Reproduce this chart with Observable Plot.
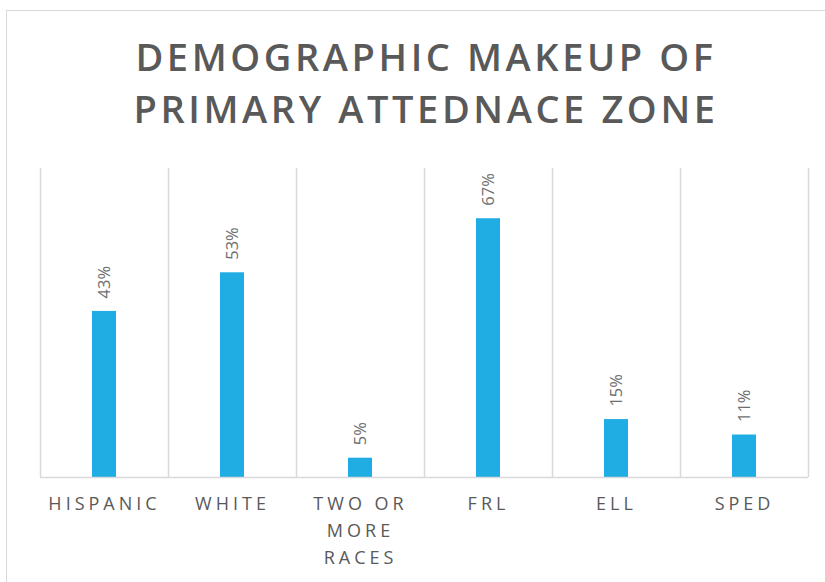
<!DOCTYPE html>
<html>
<head>
<meta charset="utf-8">
<script src="https://cdn.jsdelivr.net/npm/d3@7"></script>
<script src="https://cdn.jsdelivr.net/npm/@observablehq/plot@0.6"></script>
<style>
  html, body { margin: 0; padding: 0; background: #fff; width: 825px; height: 582px; overflow: hidden; }
  #frame { position: absolute; left: 6px; top: 10px; width: 840px; height: 600px;
           border-left: 1.5px solid #d9d9d9; border-top: 1.5px solid #d9d9d9; }
  #title { position: absolute; left: 2px; top: 30px; width: 848px; text-align: center;
           font-family: "Open Sans", sans-serif; font-weight: 600; font-size: 38px;
           line-height: 52px; letter-spacing: 3.6px; color: #595959; margin: 0; }
  #chart { position: absolute; left: 0; top: 140px; }
  #chart svg [aria-label="x-axis tick label"] text { letter-spacing: 4px; }
</style>
</head>
<body>
<div id="frame"></div>
<div id="title">DEMOGRAPHIC MAKEUP OF<br>PRIMARY ATTEDNACE ZONE</div>
<div id="chart"></div>
<script>
const categories = ["HISPANIC", "WHITE", "TWO OR MORE RACES", "FRL", "ELL", "SPED"];
const values = [0.43, 0.53, 0.05, 0.67, 0.15, 0.11];
const tickLabels = ["HISPANIC", "WHITE", "TWO OR\nMORE\nRACES", "FRL", "ELL", "SPED"];
const valueLabels = ["43%", "53%", "5%", "67%", "15%", "11%"];

const data = categories.map((c, i) => ({category: c, value: values[i], label: valueLabels[i]}));

const width = 825, marginLeft = 40, marginRight = 17;
const bw = (width - marginLeft - marginRight) / categories.length;
const grid = "#d9d9d9";

const chart = Plot.plot({
  width,
  height: 442,
  marginLeft,
  marginRight,
  marginTop: 28,
  marginBottom: 105,
  style: {fontFamily: "'Open Sans', sans-serif", background: "transparent", overflow: "visible"},
  x: {domain: categories, padding: 0, label: null},
  y: {domain: [0, 0.8], axis: null},
  marks: [
    Plot.ruleX(categories, {x: d => d, y1: 0, y2: 0.8, dx: -bw / 2, stroke: grid, strokeWidth: 1.5}),
    Plot.ruleX([categories[categories.length - 1]], {x: d => d, y1: 0, y2: 0.8, dx: bw / 2, stroke: grid, strokeWidth: 1.5}),
    Plot.barY(data, {x: "category", y: "value", fill: "#1fade4", insetLeft: (bw - 24) / 2, insetRight: (bw - 24) / 2}),
    Plot.ruleY([0], {stroke: grid, strokeWidth: 1.5}),
    Plot.text(data, {x: "category", y: "value", text: "label", rotate: -90, textAnchor: "start", dy: -13,
                     fill: "#6f6f6f", fontSize: 16.5}),
    Plot.axisX({tickSize: 0, tickPadding: 13, fontSize: 18, fill: "#595959", lineHeight: 1.5,
                tickFormat: d => tickLabels[categories.indexOf(d)], stroke: null, label: null})
  ]
});
document.getElementById("chart").append(chart);
</script>
</body>
</html>
